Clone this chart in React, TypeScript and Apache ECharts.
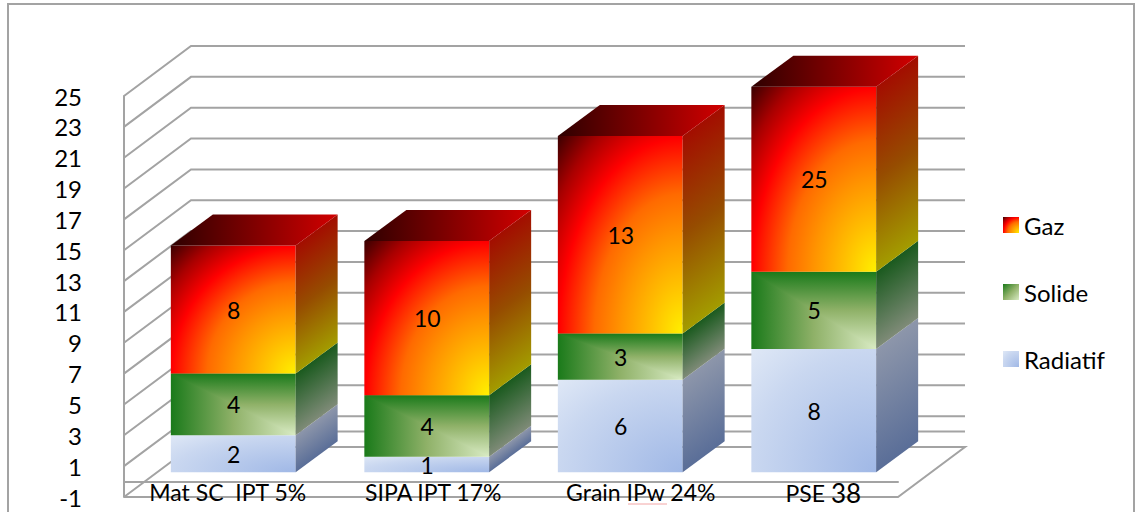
import React, { useEffect, useRef } from "react";
import * as echarts from "echarts";

const categories = ["Mat SC  IPT 5%", "SIPA IPT 17%", "Grain IPw 24%", "PSE 38"];
const radiatif = [2.4, 1, 6, 8];
const solide = [4, 4, 3, 5];
const gaz = [8.3, 10, 12.8, 25];
const yTicks = [-1, 1, 3, 5, 7, 9, 11, 13, 15, 17, 19, 21, 23, 25];
const backOnlyTicks = [0];
const seriesNames = ["Gaz", "Solide", "Radiatif"];

const FONT = "Lato";
const GREY = "#a3a3a3";
const AXIS_MAX = 25;
const WALL = [67, -50];
const BAR_FRONT = [12.5, -9.3];
const BAR_BACK = [54.5, -40.3];
const BAR_RATIO = 0.645;

type Stops = { offset: number; color: string }[];
const stops = (...c: [number, string][]): Stops => c.map(([offset, color]) => ({ offset, color }));

const GAZ_FRONT = stops([0, "#fff000"], [0.18, "#ffc000"], [0.35, "#ff9400"], [0.5, "#ff6a00"], [0.7, "#ff0000"], [0.85, "#a80000"], [1, "#3a0000"]);
const GAZ_SIDE = stops([0, "#a30d00"], [0.5, "#964c00"], [1, "#a39c00"]);
const GAZ_TOP = stops([0, "#2e0000"], [1, "#d20000"]);
const SOL_FRONT = stops([0, "#1a7a1a"], [0.5, "#8fb168"], [1, "#d9ebc4"]);
const SOL_SIDE = stops([0, "#1a5a1e"], [1, "#7f8b78"]);
const RAD_FRONT = stops([0, "#a0b8e6"], [0.7, "#c9d7f0"], [1, "#dfe8f6"]);
const RAD_SIDE = stops([0, "#8d96aa"], [1, "#5a6e98"]);

const lin = (x: number, y: number, x2: number, y2: number, colorStops: Stops) => ({
  type: "linear", x, y, x2, y2, colorStops,
});
// Colour runs out from the bottom-right corner of the shape's box
const fromCorner = (colorStops: Stops) => ({ type: "radial", x: 1, y: 1, r: 1.414, colorStops });

// Gradient for the side parallelogram with iso-lines parallel to its slanted edge (box units)
const sideFill = (dy: number, H: number, colorStops: Stops) => {
  const a = -dy / (H - dy);
  const t = (1 - a) / (1 + a * a);
  return lin(0, a, a * t, a + t, colorStops);
};

function barRender(kind: "gaz" | "solide" | "radiatif") {
  return (params: any, api: any) => {
    const i = api.value(0);
    const base = api.value(1);
    const top = Math.min(api.value(2), AXIS_MAX);
    const label = api.value(3);
    if (top <= base) return { type: "group", children: [] };
    const band = api.size([1, 0])[0];
    const w = band * BAR_RATIO;
    const cx = api.coord([i, 0])[0];
    const x0 = cx - w / 2 + BAR_FRONT[0];
    const x1 = x0 + w;
    const yB = api.coord([i, base])[1] + BAR_FRONT[1];
    const yT = api.coord([i, top])[1] + BAR_FRONT[1];
    const dx = BAR_BACK[0] - BAR_FRONT[0];
    const dy = BAR_BACK[1] - BAR_FRONT[1];
    const h = yB - yT;
    const children: any[] = [];
    const poly = (points: number[][], fill: any) => ({
      type: "polygon",
      shape: { points },
      style: { fill, stroke: null },
      silent: true,
    });
    if (kind === "solide") {
      children.push(poly([[x0, yT], [x1, yT], [x1, yB], [x0, yB]], lin(0, 0, 1, 0, SOL_FRONT)));
      children.push(poly([[x0, yT], [x1, yT], [x1, yB]], lin(0, 0, 0, 1, SOL_FRONT)));
    } else {
      children.push(poly([[x0, yT], [x1, yT], [x1, yB], [x0, yB]], fromCorner(kind === "gaz" ? GAZ_FRONT : RAD_FRONT)));
    }
    const side = kind === "gaz" ? GAZ_SIDE : kind === "solide" ? SOL_SIDE : RAD_SIDE;
    children.push(poly([[x1, yT], [x1 + dx, yT + dy], [x1 + dx, yB + dy], [x1, yB]], sideFill(dy, h, side)));
    if (kind === "gaz") {
      children.push(poly([[x0, yT], [x0 + dx, yT + dy], [x1 + dx, yT + dy], [x1, yT]], lin(0, 0, 1, 0, GAZ_TOP)));
    }
    children.push({
      type: "text",
      x: (x0 + x1) / 2 + 0.5,
      y: (yT + yB) / 2,
      style: { text: String(label), fill: "#000", font: `23px ${FONT}`, align: "center", verticalAlign: "middle" },
      silent: true,
    });
    return { type: "group", children };
  };
}

const wallRender = (params: any, api: any) => {
  const v = api.value(1);
  const kind = api.value(2);
  const cs = params.coordSys;
  const y = api.coord([0, v])[1];
  const xL = cs.x;
  const xR = cs.x + cs.width;
  const line = { stroke: GREY, lineWidth: 2, fill: null };
  let points: number[][];
  if (kind === 1) {
    points = [[xL + WALL[0], y + WALL[1]], [xR + WALL[0], y + WALL[1]]];
  } else if (v === yTicks[0]) {
    points = [[xL, y], [xR, y], [xR + WALL[0], y + WALL[1]], [xL + WALL[0], y + WALL[1]], [xL, y]];
  } else {
    points = [[xL, y], [xL + WALL[0], y + WALL[1]], [xR + WALL[0], y + WALL[1]]];
  }
  return { type: "polyline", shape: { points }, style: line, silent: true };
};

const rows = (b: number[], t: number[], labels: number[]) =>
  categories.map((_, i) => [i, b[i], t[i], Math.round(labels[i])]);

export default function App() {
  const ref = useRef<HTMLDivElement>(null);
  useEffect(() => {
    document.body.style.margin = "0";
    const chart = echarts.init(ref.current!, undefined, { renderer: "svg" });
    const s1 = radiatif;
    const s2 = radiatif.map((v, i) => v + solide[i]);
    const s3 = s2.map((v, i) => v + gaz[i]);
    const zeros = categories.map(() => 0);
    const richKeys = ["a", "b", "c", "d"];
    chart.setOption({
      animation: false,
      backgroundColor: "#fff",
      grid: { left: 124, top: 96, width: 774, height: 401, outerBoundsMode: "none", containLabel: false },
      legend: {
        orient: "vertical",
        left: 1003,
        top: 213,
        padding: 0,
        itemWidth: 16,
        itemHeight: 16,
        itemGap: 43,
        icon: "rect",
        data: [
          { name: seriesNames[0], itemStyle: { color: fromCorner(GAZ_FRONT) } },
          { name: seriesNames[1], itemStyle: { color: lin(0, 0, 1, 1, SOL_FRONT) } },
          { name: seriesNames[2], itemStyle: { color: fromCorner(RAD_FRONT) } },
        ],
        textStyle: { fontFamily: FONT, fontSize: 24, color: "#000" },
      },
      xAxis: {
        type: "category",
        data: categories,
        z: 5,
        axisTick: { show: false },
        axisLine: { onZero: true, lineStyle: { color: GREY, width: 2 } },
        axisLabel: {
          margin: -17,
          interval: 0,
          hideOverlap: false,
          fontFamily: FONT,
          fontSize: 23,
          color: "#000",
          formatter: (value: string, idx: number) => {
            if (idx === 3) {
              const [p, n] = value.split(" ");
              return `{d|${p} }{e|${n}}`;
            }
            return `{${richKeys[idx]}|${value}}`;
          },
          rich: {
            a: { padding: [0, 0, 0, 14], fontFamily: FONT, fontSize: 23, color: "#000" },
            b: { padding: [0, 0, 0, 38], fontFamily: FONT, fontSize: 23, color: "#000" },
            c: { padding: [0, 0, 0, 66], fontFamily: FONT, fontSize: 23, color: "#000" },
            d: { padding: [0, 0, 0, 44], fontFamily: FONT, fontSize: 23, color: "#000" },
            e: { fontFamily: FONT, fontSize: 26, color: "#000" },
          },
        },
      },
      yAxis: {
        type: "value",
        min: -1,
        max: 25,
        interval: 1,
        z: 1,
        splitLine: { show: false },
        axisTick: { show: false },
        axisLine: { show: true, lineStyle: { color: GREY, width: 2 } },
        axisLabel: {
          margin: 42,
          fontFamily: FONT,
          fontSize: 24,
          color: "#000",
          customValues: yTicks,
        },
      },
      graphic: [
        {
          type: "polyline",
          silent: true,
          shape: { points: [[8, 512], [8, 4], [1134, 4], [1134, 512]] },
          style: { stroke: GREY, lineWidth: 2, fill: null },
        },
        {
          type: "line",
          silent: true,
          shape: { x1: 628, y1: 504, x2: 667, y2: 504 },
          style: { stroke: "#f2a6a6", lineWidth: 1 },
        },
      ],
      series: [
        {
          type: "custom",
          name: "walls",
          z: 1,
          renderItem: wallRender,
          encode: { x: 0, y: 1 },
          data: [
            ...yTicks.map((v) => [0, v, 0]),
            ...backOnlyTicks.map((v) => [0, v, 1]),
          ],
        },
        {
          type: "custom",
          name: seriesNames[2],
          z: 3,
          renderItem: barRender("radiatif"),
          encode: { x: 0, y: 2 },
          data: rows(zeros, s1, radiatif),
        },
        {
          type: "custom",
          name: seriesNames[1],
          z: 3,
          renderItem: barRender("solide"),
          encode: { x: 0, y: 2 },
          data: rows(s1, s2, solide),
        },
        {
          type: "custom",
          name: seriesNames[0],
          z: 3,
          renderItem: barRender("gaz"),
          encode: { x: 0, y: 2 },
          data: rows(s2, s3, gaz),
        },
      ],
    });
    return () => chart.dispose();
  }, []);
  return <div ref={ref} style={{ width: 1135, height: 512, overflow: "hidden" }} />;
}
